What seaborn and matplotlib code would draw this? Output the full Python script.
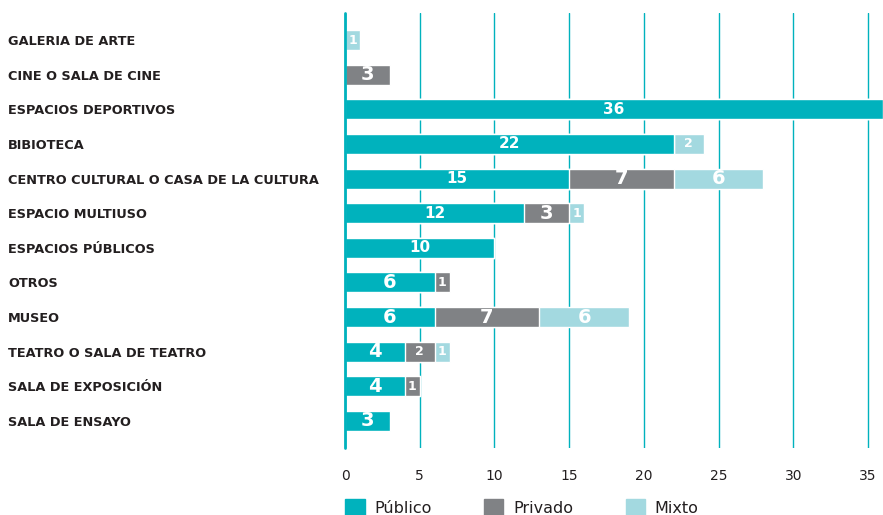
import numpy as np
import pandas as pd
import matplotlib.pyplot as plt
import seaborn as sns
from matplotlib.patches import Patch

# Data
categorias = ["GALERIA DE ARTE", "CINE O SALA DE CINE", "ESPACIOS DEPORTIVOS", "BIBIOTECA",
              "CENTRO CULTURAL O CASA DE LA CULTURA", "ESPACIO MULTIUSO", "ESPACIOS PÚBLICOS",
              "OTROS", "MUSEO", "TEATRO O SALA DE TEATRO", "SALA DE EXPOSICIÓN", "SALA DE ENSAYO"]
publico = [0, 0, 36, 22, 15, 12, 10, 6, 6, 4, 4, 3]
privado = [0, 3, 0, 0, 7, 3, 0, 1, 7, 2, 1, 0]
mixto = [1, 0, 0, 2, 6, 1, 0, 0, 6, 1, 0, 0]
x_ticks = [0, 5, 10, 15, 20, 25, 30, 35]

TEAL = "#00b2bd"
GRAY = "#808285"
LIGHT = "#a3d9e0"
DARK = "#231f20"

df = pd.DataFrame({"cat": categorias, "pub": publico, "priv": privado, "mix": mixto})
df["pub_priv"] = df["pub"] + df["priv"]
df["total"] = df["pub_priv"] + df["mix"]

sns.set_style("white")
plt.rcParams["font.family"] = ["DejaVu Sans"]

fig = plt.figure(figsize=(8.83, 5.15), dpi=100)
ax = fig.add_axes([345 / 883, 1 - 448 / 515, 1 - 345 / 883, (448 - 13) / 515])

# stacked bars by overlaying cumulative totals
sns.barplot(data=df, x="total", y="cat", order=categorias, color=LIGHT, width=0.58,
            saturation=1, orient="h", ax=ax)
sns.barplot(data=df, x="pub_priv", y="cat", order=categorias, color=GRAY, width=0.58,
            saturation=1, orient="h", ax=ax)
sns.barplot(data=df, x="pub", y="cat", order=categorias, color=TEAL, width=0.58,
            saturation=1, orient="h", ax=ax)

xmax = 36
ax.set_xlim(0, xmax)
ax.set_ylim(len(categorias) - 1 + 0.78, -0.78)

# value labels in the middle of each segment
for i, row in df.iterrows():
    start = 0
    for col in ["pub", "priv", "mix"]:
        v = row[col]
        if v > 0:
            mid = (start + min(start + v, xmax)) / 2
            size = 9 if v <= 2 else (11 if v >= 10 else 14)
            ax.text(mid, i, str(v), ha="center", va="center", color="white",
                    fontsize=size, fontweight="bold")
        start += v

ax.set_xticks(x_ticks)
ax.grid(axis="x", color=TEAL, linewidth=1.0)
ax.grid(axis="y", visible=False)
ax.set_axisbelow(True)
ax.axvline(0, color=TEAL, linewidth=2.0, zorder=5, clip_on=False)
for s in ax.spines.values():
    s.set_visible(False)

ax.set_xlabel("")
ax.set_ylabel("")
ax.tick_params(axis="x", length=0, pad=15, labelsize=10, labelcolor=DARK)
ax.tick_params(axis="y", length=0, pad=337 * 72 / 100, labelsize=9.3, labelcolor=DARK)
for lbl in ax.get_yticklabels():
    lbl.set_ha("left")
    lbl.set_fontweight("bold")

handles = [Patch(color=TEAL, label="Público"), Patch(color=GRAY, label="Privado"),
           Patch(color=LIGHT, label="Mixto")]
fig.legend(handles=handles, loc="lower left", bbox_to_anchor=(331 / 883, -0.03), ncol=3,
           frameon=False, fontsize=11.5, handlelength=1.2, handleheight=1.2,
           handletextpad=0.6, columnspacing=3.3, labelcolor=DARK)

fig.savefig("out.png", dpi=100)
